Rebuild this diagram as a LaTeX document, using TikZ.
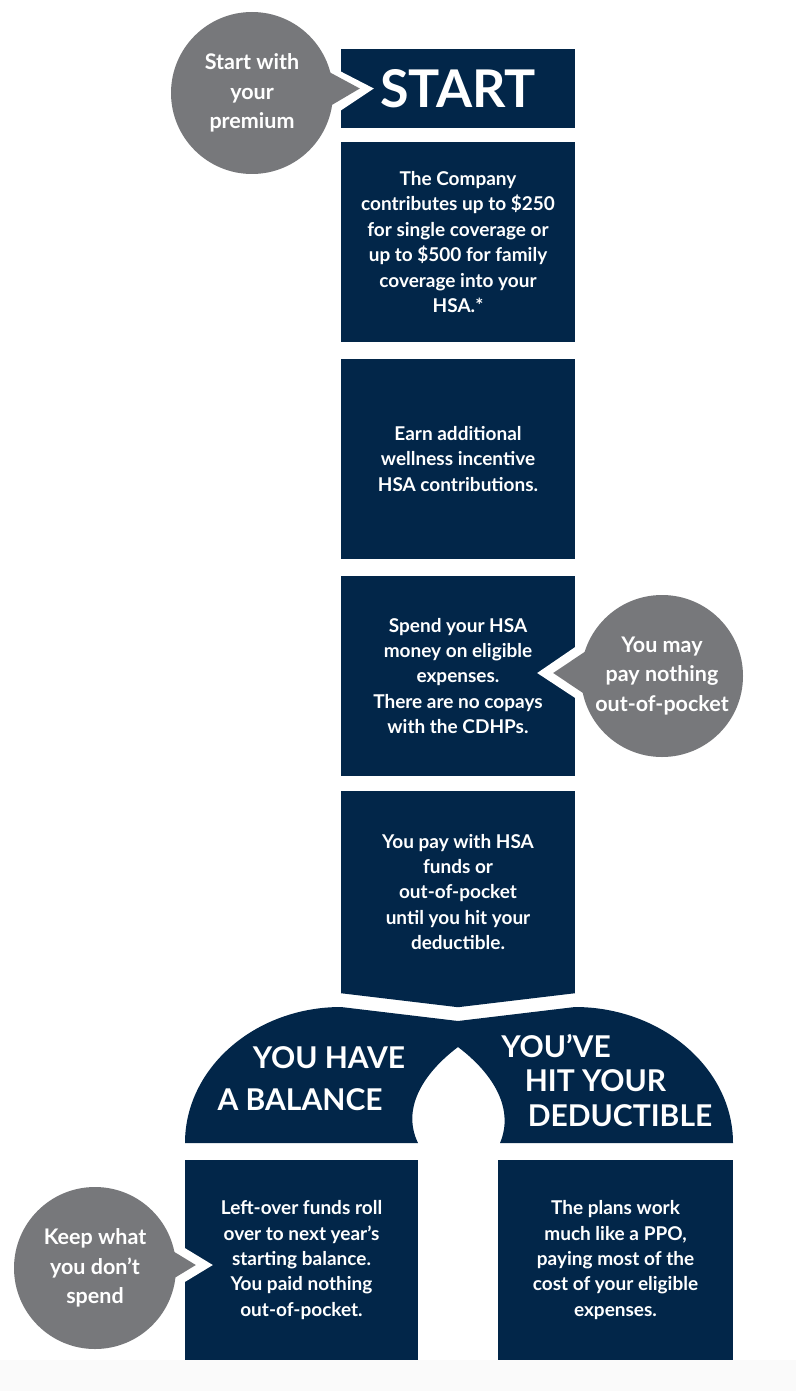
\documentclass[tikz,border=0pt]{standalone}
\usepackage{fontspec}
\setmainfont{Lato}
\usetikzlibrary{calc}
\definecolor{navy}{HTML}{022649}
\definecolor{bubblegrey}{HTML}{77787B}
\tikzset{
  stepbox/.style={fill=navy, text=white, minimum width=234pt, minimum height=200pt,
    inner sep=0pt, align=center, font=\bfseries\fontsize{19}{25.4}\selectfont},
  bubble/.style={circle, fill=bubblegrey, text=white, minimum size=162pt, inner sep=0pt,
    align=center, font=\bfseries\fontsize{21.5}{29.5}\selectfont},
  archtext/.style={text=white, inner sep=0pt, font=\bfseries\fontsize{30}{36}\selectfont}
}
\begin{document}
\begin{tikzpicture}[x=1pt,y=-1pt]
      \useasboundingbox (0,0) rectangle (796,1391);
      \fill[black!2] (0,1360) rectangle (796,1391);
      \node[stepbox, minimum height=79pt, font=\bfseries\fontsize{52}{56}\selectfont] (start) at (458,88.5) {START};
      \node[stepbox] (company) at (458,242) {The Company\\contributes up to \$250\\for single coverage or\\up to \$500 for family\\coverage into your\\HSA.*};
      \node[stepbox] (earn) at (458,459) {Earn additional\\wellness incentive\\HSA contributions.};
      \node[stepbox] (spend) at (458,676) {Spend your HSA\\money on eligible\\expenses.\\There are no copays\\with the CDHPs.};
      \node[stepbox, minimum height=202pt] (pay) at (458,892) {You pay with HSA\\funds or\\out-of-pocket\\until you hit your\\deductible.};
      \fill[navy] (pay.south west) -- ($(pay.south)+(0,14)$) -- (pay.south east) -- cycle;
      \fill[navy] (185,1143) .. controls (185,1068) and (255,1007) .. (341,1007) -- (458,1021) -- (575,1007)
        .. controls (661,1007) and (733,1068) .. (733,1143) -- (500,1143)
        .. controls (514,1110) and (495,1075) .. (458,1047)
        .. controls (421,1075) and (402,1110) .. (418,1143) -- cycle;
      \node[archtext] (have1) at (329,1058) {YOU HAVE};
      \node[archtext] (have2) at (300,1100) {A BALANCE};
      \node[archtext] (hit1) at (556,1046) {YOU’VE};
      \node[archtext] (hit2) at (595.5,1081) {HIT YOUR};
      \node[archtext] (hit3) at (620,1116) {DEDUCTIBLE};
      \node[stepbox, minimum width=233pt] (leftover) at (301.5,1260) {Left-over funds roll\\over to next year’s\\starting balance.\\You paid nothing\\out-of-pocket.};
      \node[stepbox, minimum width=235pt] (ppo) at (615.5,1260) {The plans work\\much like a PPO,\\paying most of the\\cost of your eligible\\expenses.};
      % notches and pointers
      \fill[white] ($(start.west)+(0,-17)$) -- ($(start.west)+(33,0)$) -- ($(start.west)+(0,22)$) -- cycle;
      \fill[bubblegrey] ($(start.west)+(-20,-21)$) -- ($(start.west)+(19,0)$) -- ($(start.west)+(-20,23)$) -- cycle;
      \fill[white] ($(spend.east)+(0,-29)$) -- ($(spend.east)+(-38,-3)$) -- ($(spend.east)+(0,22)$) -- cycle;
      \fill[bubblegrey] ($(spend.east)+(25,-34.5)$) -- ($(spend.east)+(-22,-3)$) -- ($(spend.east)+(25,28.5)$) -- cycle;
      \fill[white] ($(leftover.west)+(0,-12)$) -- ($(leftover.west)+(28,5)$) -- ($(leftover.west)+(0,22)$) -- cycle;
      \fill[bubblegrey] ($(leftover.west)+(-35,-23)$) -- ($(leftover.west)+(11,5)$) -- ($(leftover.west)+(-35,33)$) -- cycle;
      \node[bubble] (premium) at (252,93) {Start with\\your\\premium};
      \node[bubble] (nothing) at (662,676) {You may\\pay nothing\\out-of-pocket};
      \node[bubble] (keep) at (95,1268) {Keep what\\you don’t\\spend};
\end{tikzpicture}
\end{document}
